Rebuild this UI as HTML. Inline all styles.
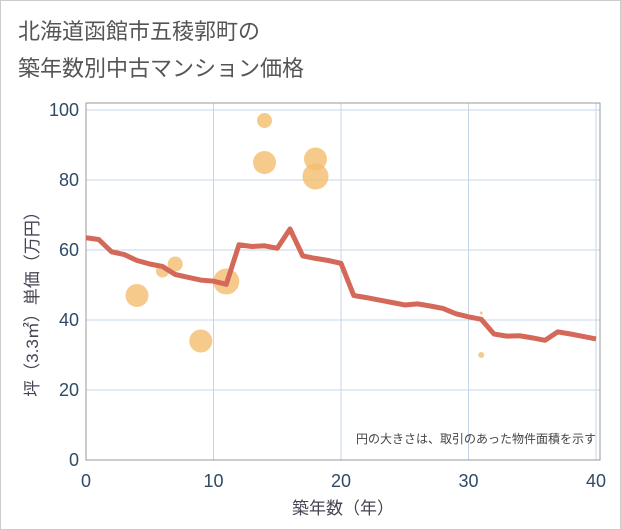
<!DOCTYPE html>
<html><head><meta charset="utf-8"><style>
body{margin:0;background:#fff;}
svg{display:block;font-family:"Liberation Sans","Noto Sans CJK JP",sans-serif;}
</style></head><body>
<svg width="621" height="530" viewBox="0 0 621 530" xmlns="http://www.w3.org/2000/svg">
<rect x="0.5" y="0.5" width="620" height="529" fill="#fff" stroke="#ccc"/>
<text x="18" y="39" font-size="22" fill="#555">北海道函館市五稜郭町の</text>
<text x="18" y="76" font-size="22" fill="#555">築年数別中古マンション価格</text>
<g id="grid"></g>
<g id="ticks"></g>
<rect x="86" y="103" width="514" height="357" fill="none" stroke="#999" stroke-width="1"/>
<g id="bubbles"></g>
<path id="line" fill="none" stroke="#d4695a" stroke-width="5" stroke-linejoin="round"/>
<text x="596" y="443" font-size="12" fill="#444" text-anchor="end">円の大きさは、取引のあった物件面積を示す</text>
<text x="343" y="514" font-size="17" fill="#445" text-anchor="middle">築年数（年）</text>
<text transform="translate(38,300) rotate(-90)" font-size="17" fill="#445" text-anchor="middle">坪（3.3㎡）単価（万円）</text>
</svg>
<script>
const xTicks=[0,10,20,30,40];
const yTicks=[0,20,40,60,80,100];
const lineYears=[0,1,2,3,4,5,6,7,8,9,10,11,12,13,14,15,16,17,18,19,20,21,22,23,24,25,26,27,28,29,30,31,32,33,34,35,36,37,38,39,40];
const lineValues=[63.5,63,59.5,58.7,57,56,55.3,53,52.2,51.4,51.1,50.2,61.5,61,61.2,60.5,66,58.3,57.6,57,56.2,47,46.4,45.7,45,44.3,44.6,44,43.3,41.8,40.9,40.2,36,35.4,35.5,34.9,34.2,36.6,36,35.3,34.6];
const bubbleYears=[4,6,7,9,11,14,14,18,18,31,31];
const bubbleValues=[47,54,56,34,51,97,85,86,81,30,42];
const bubbleSizes=[11.5,6.5,7.5,11.5,13,7.5,11.5,11.5,13,3,1.5];
const sx=v=>86+v*12.75, sy=v=>460-v*3.5;
const NS="http://www.w3.org/2000/svg";
const grid=document.getElementById('grid'), ticks=document.getElementById('ticks');
xTicks.forEach(t=>{
 if(t>0){const l=document.createElementNS(NS,'line');
 
 
 l.setAttribute('x1',sx(t));l.setAttribute('x2',sx(t));l.setAttribute('y1',103);l.setAttribute('y2',460);l.setAttribute('stroke','#c5d5e8');grid.appendChild(l);}
 const tx=document.createElementNS(NS,'text');
 
 
 tx.setAttribute('x',sx(t));tx.setAttribute('y',487);tx.setAttribute('font-size','18');tx.setAttribute('fill','#2f4a66');tx.setAttribute('text-anchor','middle');tx.textContent=t;ticks.appendChild(tx);
});
yTicks.forEach(t=>{
 if(t>0){const l=document.createElementNS(NS,'line');
 
 
 l.setAttribute('x1',86);l.setAttribute('x2',600);l.setAttribute('y1',sy(t));l.setAttribute('y2',sy(t));l.setAttribute('stroke','#c5d5e8');grid.appendChild(l);}
 const tx=document.createElementNS(NS,'text');
 
 
 tx.setAttribute('x',79);tx.setAttribute('y',sy(t)+6);tx.setAttribute('font-size','18');tx.setAttribute('fill','#2f4a66');tx.setAttribute('text-anchor','end');tx.textContent=t;ticks.appendChild(tx);
});
const bg=document.getElementById('bubbles');
bubbleYears.forEach((y,i)=>{
 const c=document.createElementNS(NS,'circle');
 
 
 c.setAttribute('cx',sx(y));c.setAttribute('cy',sy(bubbleValues[i]));c.setAttribute('r',bubbleSizes[i]);c.setAttribute('fill','#f2bd6e');c.setAttribute('fill-opacity','0.8');bg.appendChild(c);
});
document.getElementById('line').setAttribute('d',lineYears.map((y,i)=>(i?'L':'M')+sx(y)+','+sy(lineValues[i])).join(' '));
</script>
</body></html>
